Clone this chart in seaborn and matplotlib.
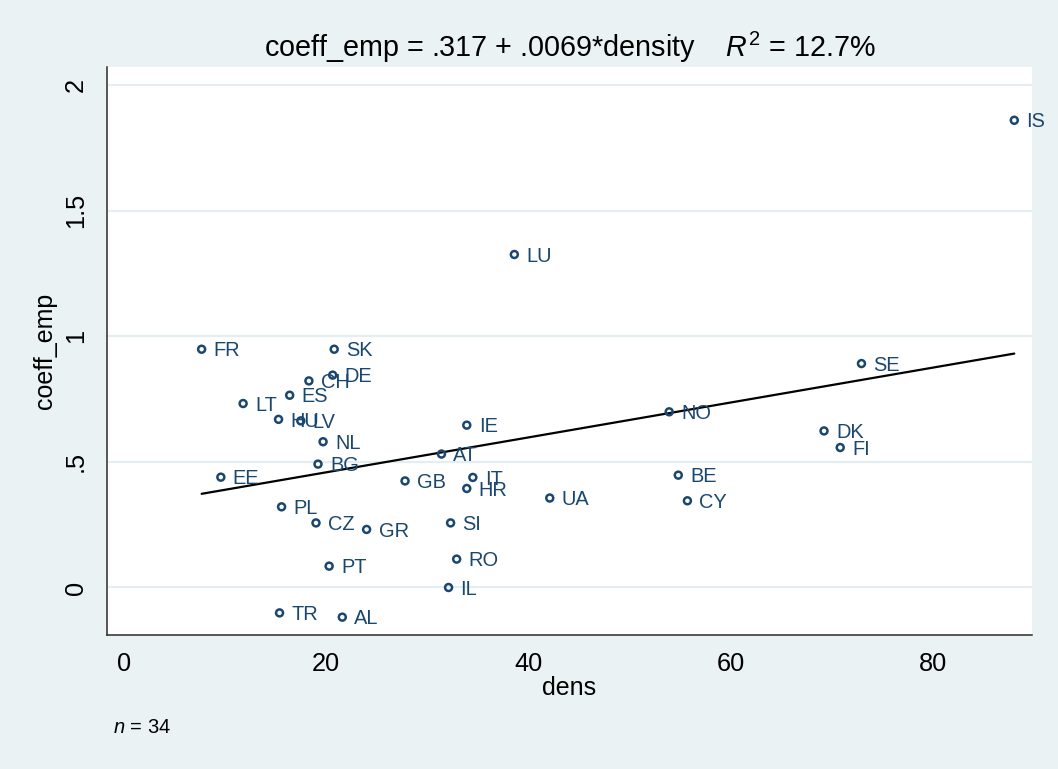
import matplotlib
matplotlib.use("Agg")
import matplotlib.pyplot as plt
import seaborn as sns
import pandas as pd

countries = ["FR", "SK", "DE", "CH", "ES", "LT", "HU", "LV", "NL", "BG", "EE", "PL",
             "CZ", "GR", "PT", "TR", "AL", "GB", "IT", "HR", "SI", "RO", "IL", "IE",
             "AT", "LU", "UA", "NO", "BE", "CY", "DK", "FI", "SE", "IS"]
dens = [7.7, 20.8, 20.65, 18.3, 16.4, 11.8, 15.3, 17.5, 19.7, 19.2, 9.6, 15.6,
        19.0, 24.0, 20.3, 15.4, 21.6, 27.8, 34.5, 33.9, 32.3, 32.9, 32.1, 33.9,
        31.4, 38.6, 42.1, 53.9, 54.8, 55.7, 69.2, 70.8, 72.9, 88.0]
coeff_emp = [0.948, 0.948, 0.845, 0.822, 0.765, 0.732, 0.669, 0.663, 0.580, 0.491, 0.439, 0.321,
             0.257, 0.231, 0.085, -0.101, -0.118, 0.424, 0.438, 0.394, 0.257, 0.113, 0.0, 0.646,
             0.531, 1.325, 0.356, 0.699, 0.447, 0.345, 0.623, 0.557, 0.891, 1.859]
x_ticks = [0, 20, 40, 60, 80]
y_ticks = [0, 0.5, 1, 1.5, 2]
y_ticklabels = ["0", ".5", "1", "1.5", "2"]
title_text = r"coeff_emp = .317 + .0069*density    $R^2$ = 12.7%"

df = pd.DataFrame({"dens": dens, "coeff_emp": coeff_emp, "cc": countries})

BG = "#EAF2F3"
NAVY = "#1a476f"
AXC = "#2b2b2b"

sns.set_theme(style="white")
plt.rcParams["font.family"] = ["Liberation Sans", "DejaVu Sans"]
plt.rcParams["mathtext.fontset"] = "custom"
plt.rcParams["mathtext.rm"] = "Liberation Sans"
plt.rcParams["mathtext.it"] = "Liberation Sans:italic"
plt.rcParams["text.color"] = "black"
plt.rcParams["axes.labelcolor"] = "black"
plt.rcParams["xtick.color"] = AXC
plt.rcParams["ytick.color"] = AXC
plt.rcParams["xtick.labelcolor"] = "black"
plt.rcParams["ytick.labelcolor"] = "black"

fig = plt.figure(figsize=(10.58, 7.69), dpi=100, facecolor=BG)
W, H = 1058, 769
left, right, top, bottom = 107, 1032, 67, 635
ax = fig.add_axes([left / W, (H - bottom) / H, (right - left) / W, (bottom - top) / H])
ax.set_facecolor("white")

for yt in y_ticks:
    ax.axhline(yt, color="#E4EDF0", lw=1.6, zorder=0)

sns.regplot(data=df, x="dens", y="coeff_emp", scatter=False, ci=None, ax=ax,
            color="black", line_kws={"lw": 1.6, "zorder": 2})
sns.scatterplot(data=df, x="dens", y="coeff_emp", ax=ax, marker="o", s=25,
                facecolor="none", edgecolor=NAVY, linewidth=1.8, zorder=3)

for c, xv, yv in zip(countries, dens, coeff_emp):
    ax.annotate(c, (xv, yv), xytext=(8.6, -1.2), textcoords="offset points",
                ha="left", va="center", fontsize=14.4, color=NAVY, zorder=4)

ax.set_xlim(-1.65, 89.75)
ax.set_ylim(-0.189, 2.071)
ax.set_xticks(x_ticks)
ax.set_xticklabels([str(v) for v in x_ticks], fontsize=18.3)
ax.set_yticks(y_ticks)
ax.set_yticklabels(y_ticklabels, fontsize=18.3, rotation=90, va="center")
ax.tick_params(axis="both", direction="out", length=7.2, width=1.0)
ax.tick_params(axis="x", pad=5)
ax.tick_params(axis="y", pad=6.5)

for s in ["top", "right"]:
    ax.spines[s].set_visible(False)
for s in ["left", "bottom"]:
    ax.spines[s].set_color(AXC)
    ax.spines[s].set_linewidth(1.1)

ax.set_xlabel("dens", fontsize=18, labelpad=0)
ax.set_ylabel("coeff_emp", fontsize=18, labelpad=5)
ax.set_title(title_text, fontsize=20.7, pad=7.2, color="black")

fig.text(112.7 / W, 1 - 733 / H, r"$n$ = 34", fontsize=14.5, ha="left", va="baseline")

fig.savefig("out.png", dpi=100, facecolor=BG)
